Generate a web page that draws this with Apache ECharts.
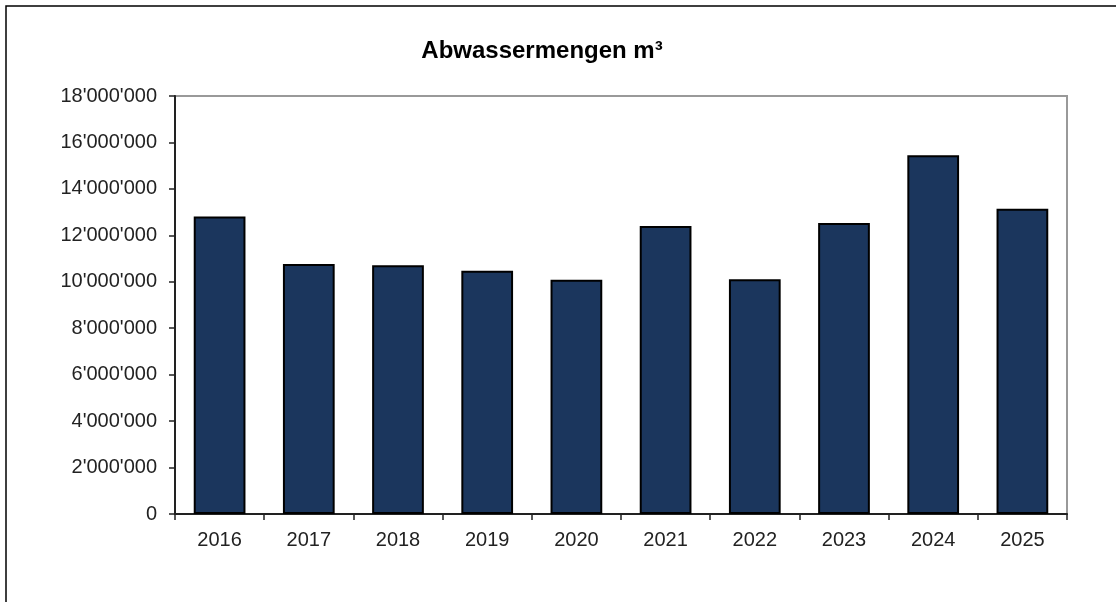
<!DOCTYPE html>
<html>
<head>
<meta charset="utf-8">
<script src="https://cdn.jsdelivr.net/npm/echarts@6/dist/echarts.min.js"></script>
<style>
  html, body { margin: 0; padding: 0; background: #fff; }
  #chart { width: 1116px; height: 602px; }
</style>
</head>
<body>
<div id="chart"></div>
<script>
const years = ['2016', '2017', '2018', '2019', '2020', '2021', '2022', '2023', '2024', '2025'];
const volumes = [12810000, 10770000, 10710000, 10480000, 10090000, 12400000, 10110000, 12530000, 15450000, 13140000];

function swissFmt(v) {
    return String(Math.round(v)).replace(/\B(?=(\d{3})+(?!\d))/g, "'");
}

const chart = echarts.init(document.getElementById('chart'));
const font = '"Liberation Sans", Arial, sans-serif';

chart.setOption({
    animation: false,
    title: {
        text: 'Abwassermengen m³',
        left: 537, top: 34, textAlign: 'center',
        textStyle: { fontFamily: font, fontSize: 24, fontWeight: 'bold', color: '#000' }
    },
    graphic: [{
        type: 'rect',
        shape: { x: 6, y: 6, width: 1300, height: 800 },
        style: { fill: 'none', stroke: '#000', lineWidth: 1.5 }
    }],
    grid: { left: 175, right: 49, top: 96, bottom: 88, show: true, borderColor: '#999', borderWidth: 2 },
    xAxis: {
        type: 'category', data: years,
        axisLine: { lineStyle: { color: '#222', width: 2 } },
        axisTick: { show: true, length: 6, lineStyle: { color: '#222', width: 1.5 } },
        axisLabel: { fontFamily: font, fontSize: 20, color: '#222', margin: 16 }
    },
    yAxis: {
        type: 'value', min: 0, max: 18000000, interval: 2000000,
        axisLine: { show: true, lineStyle: { color: '#222', width: 2 } },
        axisTick: { show: true, length: 6, lineStyle: { color: '#222', width: 1.5 } },
        splitLine: { show: false },
        axisLabel: { fontFamily: font, fontSize: 20, color: '#222', margin: 18, formatter: swissFmt }
    },
    series: [{
        type: 'bar', data: volumes, barWidth: '58%',
        itemStyle: { color: '#1b365d', borderColor: '#000', borderWidth: 2 }
    }]
});
</script>
</body>
</html>
